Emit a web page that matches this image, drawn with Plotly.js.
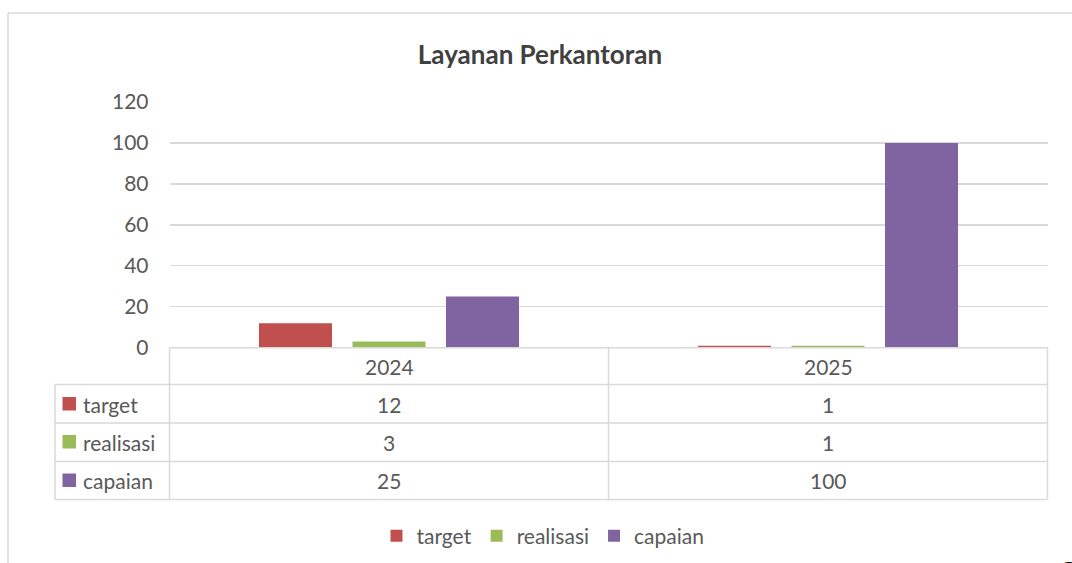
<!DOCTYPE html>
<html>
<head>
<meta charset="utf-8">
<script src="https://cdn.plot.ly/plotly-3.0.1.min.js"></script>
<style>html,body{margin:0;padding:0;background:#fff;}#chart{width:1072px;height:563px;}</style>
</head>
<body>
<div id="chart"></div>
<script>
const chartTitle = 'Layanan Perkantoran';
const categories = ['2024', '2025'];
const seriesNames = ['target', 'realisasi', 'capaian'];
const target = [12, 1];
const realisasi = [3, 1];
const capaian = [25, 100];
const seriesColors = ['#C0504D', '#9BBB59', '#8064A2'];
const yTicks = [0, 20, 40, 60, 80, 100, 120];
const pageNumber = '2';

const seriesValues = [target, realisasi, capaian];
const W = 1072, H = 563;
const px = p => p / W;
const py = p => 1 - p / H;
const FONT = 'Lato, "Open Sans", sans-serif';
const FS = 21;
const TXT = '#595959';
const LINE = '#D9D9D9';

const plotL = 169.5, plotR = 1047.5, plotT = 102, plotB = 347.7;
const tableL = 55, colMid = (plotL + plotR) / 2;
const rowLines = [384.5, 423, 461.5, 499.5];
const rowCenters = [366, 404, 442, 480.5];

const traces = seriesNames.map((name, i) => ({
  type: 'bar',
  name: name,
  x: categories,
  y: seriesValues[i],
  marker: {color: seriesColors[i]},
  hoverinfo: 'skip'
}));

const shapes = [];
const annotations = [];
const ln = (x0, y0, x1, y1) => shapes.push({type: 'line', xref: 'paper', yref: 'paper',
  x0: px(x0), y0: py(y0), x1: px(x1), y1: py(y1), line: {color: LINE, width: 1.5}});

// outer frame
ln(8, 13, 1080, 13);
ln(8, 13, 8, 570);
// table
ln(plotL, plotB, plotR, plotB);
rowLines.forEach(y => ln(tableL, y, plotR, y));
ln(tableL, rowLines[0], tableL, rowLines[3]);
[plotL, colMid, plotR].forEach(x => ln(x, plotB, x, rowLines[3]));

const txtFont = {family: FONT, size: FS, color: TXT};
// header cells
categories.forEach(c => annotations.push({xref: 'x', yref: 'paper', x: c, y: py(rowCenters[0]),
  yanchor: 'middle', text: c, showarrow: false, font: txtFont}));
// rows
seriesNames.forEach((name, i) => {
  const yc = rowCenters[i + 1];
  shapes.push({type: 'rect', xref: 'paper', yref: 'paper', x0: px(62.5), x1: px(76), y0: py(yc - 7), y1: py(yc + 6.5),
    fillcolor: seriesColors[i], line: {width: 0}});
  annotations.push({xref: 'paper', yref: 'paper', x: px(81), y: py(yc), xanchor: 'left', yanchor: 'middle',
    text: name, showarrow: false, font: txtFont});
  categories.forEach((c, j) => annotations.push({xref: 'x', yref: 'paper', x: c, y: py(yc), yanchor: 'middle',
    text: String(seriesValues[i][j]), showarrow: false, font: txtFont}));
});
// page number partially visible
annotations.push({xref: 'paper', yref: 'paper', x: px(1061), y: py(553), xanchor: 'left', yanchor: 'top',
  text: pageNumber, showarrow: false, font: {family: 'Liberation Serif, serif', size: 28, color: '#000'}});

const layout = {
  width: W, height: H,
  margin: {l: 0, r: 0, t: 0, b: 0},
  paper_bgcolor: '#fff', plot_bgcolor: '#fff',
  font: {family: FONT, color: TXT, size: FS},
  title: {text: '<b>' + chartTitle + '</b>', x: 540 / W, xanchor: 'center', y: py(55), yanchor: 'middle',
    font: {family: FONT, size: 26, color: '#404040'}},
  barmode: 'group',
  bargap: 0.361,
  bargroupgap: 0.219,
  xaxis: {domain: [px(plotL), px(plotR)], showticklabels: false, showgrid: false, zeroline: false,
    showline: false, ticks: '', fixedrange: true},
  yaxis: {domain: [py(plotB), py(plotT)], range: [0, 120], tickvals: yTicks, ticktext: yTicks.map(String),
    showgrid: true, gridcolor: LINE, gridwidth: 1.3, zeroline: false, showline: false, ticks: '',
    ticklabelstandoff: 20, tickfont: txtFont, fixedrange: true},
  showlegend: true,
  legend: {orientation: 'h', x: 543 / W, xanchor: 'center', y: py(536), yanchor: 'middle',
    font: txtFont, itemwidth: 30, tracegroupgap: 0},
  shapes: shapes,
  annotations: annotations
};

Plotly.newPlot('chart', traces, layout, {displayModeBar: false, staticPlot: true});
</script>
</body>
</html>
